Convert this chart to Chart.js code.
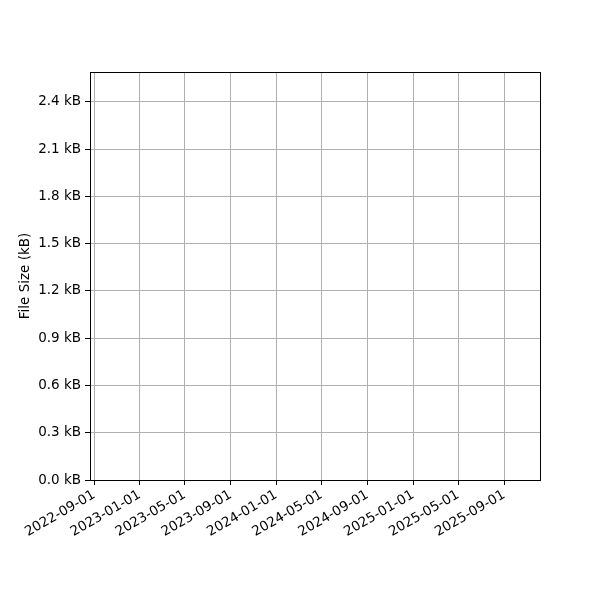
<!DOCTYPE html>
<html>
<head>
<meta charset="utf-8">
<script src="https://cdn.jsdelivr.net/npm/chart.js@4.4.1/dist/chart.umd.min.js"></script>
<style>
  html, body { margin: 0; padding: 0; background: #fff; }
  #wrap { width: 600px; height: 600px; }
</style>
</head>
<body>
<div id="wrap"><canvas id="sizeChart" width="600" height="600"></canvas></div>
<script>
// chart data (the reference has no visible points)
const dates = [];
const sizesKB = [];

// axis ticks
const xTickDates = [
  "2022-09-01", "2023-01-01", "2023-05-01", "2023-09-01", "2024-01-01",
  "2024-05-01", "2024-09-01", "2025-01-01", "2025-05-01", "2025-09-01",
];
const yTickValues = [0, 0.3, 0.6, 0.9, 1.2, 1.5, 1.8, 2.1, 2.4];

const xMin = Date.parse("2022-08-21");
const xMax = Date.parse("2025-12-06");
const yMax = 2.59;

// matplotlib-like box around the plot area
const frame = {
  id: "frame",
  afterDraw(chart) {
    const { ctx, chartArea: a } = chart;
    ctx.save();
    ctx.strokeStyle = "#000";
    ctx.lineWidth = 1;
    ctx.strokeRect(a.left + 0.5, a.top + 0.5, a.right - a.left, a.bottom - a.top);
    ctx.restore();
  },
};

Chart.defaults.font.family = "'DejaVu Sans', sans-serif";
Chart.defaults.font.size = 13.5;
Chart.defaults.color = "#000";

new Chart(document.getElementById("sizeChart"), {
  type: "line",
  data: {
    datasets: [
      {
        label: "File Size",
        data: dates.map((d, i) => ({ x: Date.parse(d), y: sizesKB[i] })),
        borderColor: "#1f77b4",
        pointRadius: 0,
      },
    ],
  },
  options: {
    responsive: false,
    animation: false,
    layout: { padding: { top: 72, right: 60, left: 0, bottom: 0 } },
    plugins: { legend: { display: false }, tooltip: { enabled: false } },
    scales: {
      x: {
        type: "linear",
        min: xMin,
        max: xMax,
        afterBuildTicks: (scale) => {
          scale.ticks = xTickDates.map((d) => ({ value: Date.parse(d) }));
        },
        afterFit: (scale) => { scale.height = 120; },
        ticks: {
          autoSkip: false,
          minRotation: 30,
          maxRotation: 30,
          padding: 2,
          callback: (v) => new Date(v).toISOString().slice(0, 10),
        },
        grid: { color: "#b0b0b0", tickColor: "#000", tickLength: 5 },
        border: { color: "#000" },
      },
      y: {
        min: 0,
        max: yMax,
        afterBuildTicks: (scale) => {
          scale.ticks = yTickValues.map((v) => ({ value: v }));
        },
        afterFit: (scale) => { scale.width = 90; },
        ticks: {
          padding: 4,
          callback: (v) => v.toFixed(1) + " kB",
        },
        grid: { color: "#b0b0b0", tickColor: "#000", tickLength: 5 },
        border: { color: "#000" },
        title: { display: true, text: "File Size (kB)", padding: { top: 17, bottom: 0 } },
      },
    },
  },
  plugins: [frame],
});
</script>
</body>
</html>
